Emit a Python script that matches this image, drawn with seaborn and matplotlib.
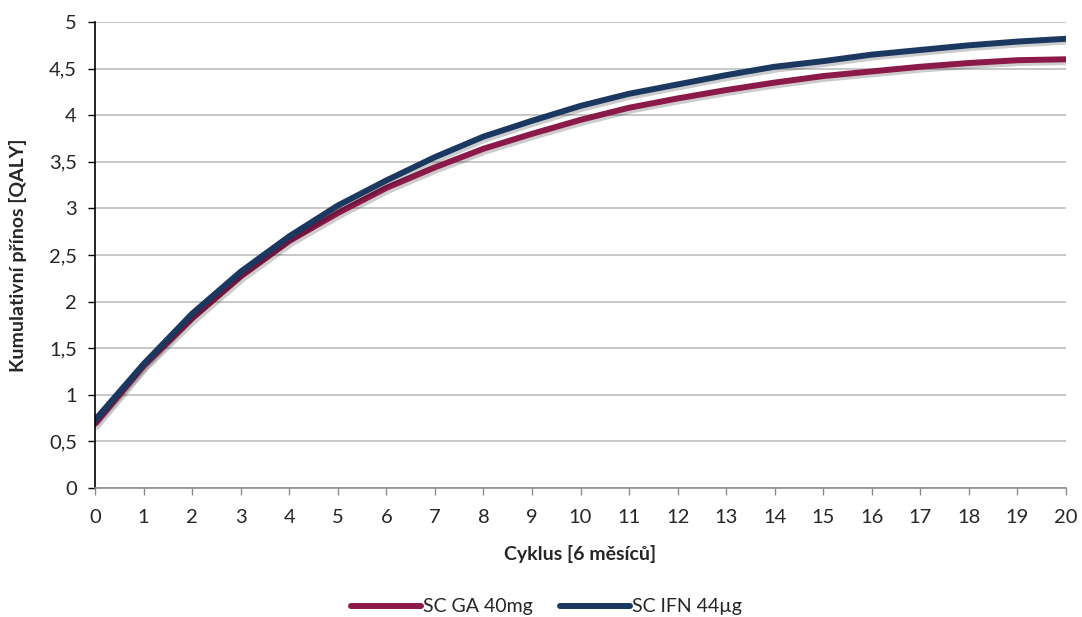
import matplotlib
matplotlib.use("Agg")
import matplotlib.pyplot as plt
import matplotlib.patheffects as pe
import seaborn as sns
import pandas as pd
from matplotlib.ticker import FuncFormatter, MultipleLocator

cycles = list(range(21))
ga_40mg = [0.69, 1.31, 1.82, 2.27, 2.65, 2.95, 3.22, 3.44, 3.64, 3.80, 3.95,
           4.08, 4.18, 4.27, 4.35, 4.42, 4.47, 4.52, 4.56, 4.59, 4.60]
ifn_44ug = [0.73, 1.33, 1.87, 2.32, 2.70, 3.03, 3.30, 3.55, 3.77, 3.94, 4.10,
            4.23, 4.33, 4.43, 4.52, 4.58, 4.65, 4.70, 4.75, 4.79, 4.82]
series_names = ["SC GA 40mg", "SC IFN 44µg"]
colors = ["#8B1A4B", "#1B3860"]

df = pd.DataFrame({
    "Cyklus": cycles * 2,
    "QALY": ga_40mg + ifn_44ug,
    "Série": [series_names[0]] * len(cycles) + [series_names[1]] * len(cycles),
})

sns.set_theme(style="white")
plt.rcParams["font.family"] = ["Lato", "DejaVu Sans"]

fig = plt.figure(figsize=(10.82, 6.17), dpi=100)
ax = fig.add_axes([95 / 1082, 1 - 488 / 617, (1066 - 95) / 1082, (488 - 22) / 617])

sns.lineplot(data=df, x="Cyklus", y="QALY", hue="Série", palette=colors,
             linewidth=4.3, ax=ax, legend=True, solid_capstyle="round")
for line in ax.get_lines():
    line.set_path_effects([pe.SimpleLineShadow(offset=(1.5, -2), shadow_color="black", alpha=0.2),
                           pe.Normal()])

ax.set_xlim(0, 20)
ax.set_ylim(0, 5)
ax.xaxis.set_major_locator(MultipleLocator(1))
ax.yaxis.set_major_locator(MultipleLocator(0.5))
ax.yaxis.set_major_formatter(FuncFormatter(lambda v, p: (f"{v:g}").replace(".", ",")))
ax.grid(axis="y", color="#BEBEBE", linewidth=1.2)
ax.set_axisbelow(True)
for s in ["top", "right"]:
    ax.spines[s].set_visible(False)
ax.spines["left"].set_color("black")
ax.spines["left"].set_linewidth(1.2)
ax.spines["bottom"].set_color("#8C8C8C")
ax.spines["bottom"].set_linewidth(1.2)
ax.tick_params(axis="x", direction="out", length=5, width=1, color="#8C8C8C",
               labelsize=14.5, pad=10, bottom=True)
ax.tick_params(axis="y", direction="out", length=5, width=1, color="black",
               labelsize=14.5, pad=8, left=True)
ax.set_xlabel("Cyklus [6 měsíců]", fontsize=14, fontweight="bold", labelpad=14)
ax.set_ylabel("Kumulativní přínos [QALY]", fontsize=14, fontweight="bold", labelpad=16)

handles, labels = ax.get_legend_handles_labels()
leg = ax.legend(handles, labels, loc="center", bbox_to_anchor=(0.465, -0.255), ncol=2,
                frameon=False, fontsize=14, handlelength=3.6, handletextpad=0.1,
                columnspacing=1.4)
for h in leg.get_lines():
    h.set_linewidth(4.3)
    h.set_solid_capstyle("round")
    h.set_path_effects([])

fig.savefig("out.png", dpi=100)
